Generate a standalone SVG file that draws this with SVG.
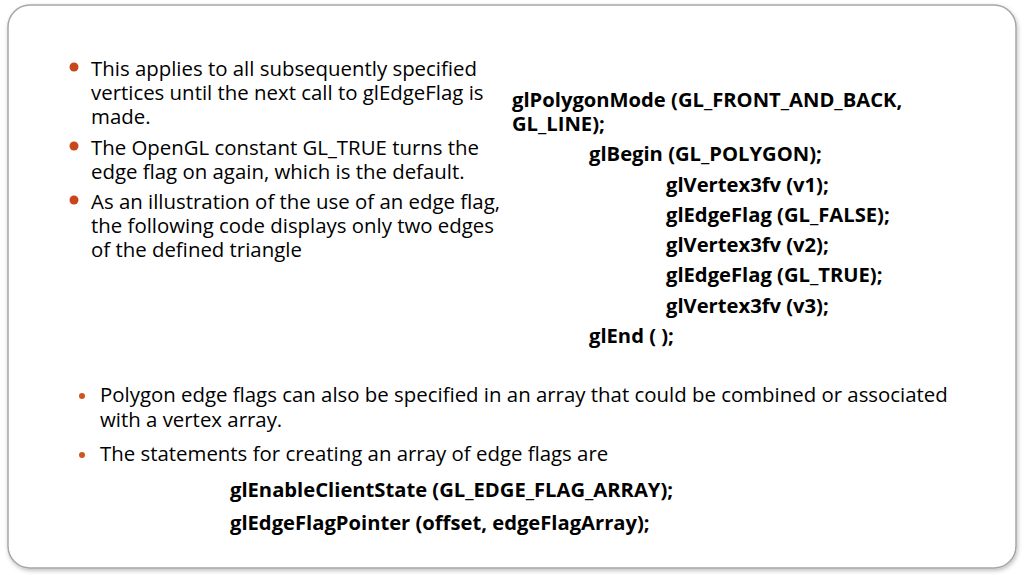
<svg xmlns="http://www.w3.org/2000/svg" width="1024" height="575" viewBox="0 0 1024 575">
<defs>
<filter id="sh" x="-5%" y="-5%" width="110%" height="110%"><feDropShadow dx="1" dy="2" stdDeviation="2" flood-color="#000" flood-opacity="0.25"/></filter>
</defs>
<style>
text{font-family:"Open Sans","Noto Sans",sans-serif;font-size:20.4px;fill:#000}
.b{font-weight:bold;font-size:20.2px}
.d1{fill:#c8461c}
.d2{fill:#d0541f}
</style>
<rect width="1024" height="575" fill="#fff"/>
<rect x="8" y="5" width="1008" height="563" rx="22" fill="#fff" stroke="#a6a6a6" stroke-width="1.5" filter="url(#sh)"/>
<g id="left">
<circle class="d1" cx="74" cy="67" r="4.5"/>
<text x="91" y="76">This applies to all subsequently specified</text>
<text x="91" y="100">vertices until the next call to glEdgeFlag is</text>
<text x="91" y="124">made.</text>
<circle class="d1" cx="74" cy="146" r="4.5"/>
<text x="91" y="155">The OpenGL constant GL_TRUE turns the</text>
<text x="91" y="179">edge flag on again, which is the default.</text>
<circle class="d1" cx="74" cy="200" r="4.5"/>
<text x="91" y="209">As an illustration of the use of an edge flag,</text>
<text x="91" y="233">the following code displays only two edges</text>
<text x="91" y="257">of the defined triangle</text>
</g>
<g id="code">
<text class="b" x="512" y="107">glPolygonMode (GL_FRONT_AND_BACK,</text>
<text class="b" x="512" y="131">GL_LINE);</text>
<text class="b" x="589" y="161">glBegin (GL_POLYGON);</text>
<text class="b" x="666" y="192">glVertex3fv (v1);</text>
<text class="b" x="666" y="222">glEdgeFlag (GL_FALSE);</text>
<text class="b" x="666" y="252">glVertex3fv (v2);</text>
<text class="b" x="666" y="282">glEdgeFlag (GL_TRUE);</text>
<text class="b" x="666" y="313">glVertex3fv (v3);</text>
<text class="b" x="589" y="343">glEnd ( );</text>
</g>
<g id="bottom">
<circle class="d2" cx="82" cy="396" r="3"/>
<text x="100" y="402">Polygon edge flags can also be specified in an array that could be combined or associated</text>
<text x="100" y="427">with a vertex array.</text>
<circle class="d2" cx="82" cy="455" r="3"/>
<text x="100" y="461">The statements for creating an array of edge flags are</text>
<text class="b" x="230" y="497">glEnableClientState (GL_EDGE_FLAG_ARRAY);</text>
<text class="b" x="230" y="530">glEdgeFlagPointer (offset, edgeFlagArray);</text>
</g>
</svg>
